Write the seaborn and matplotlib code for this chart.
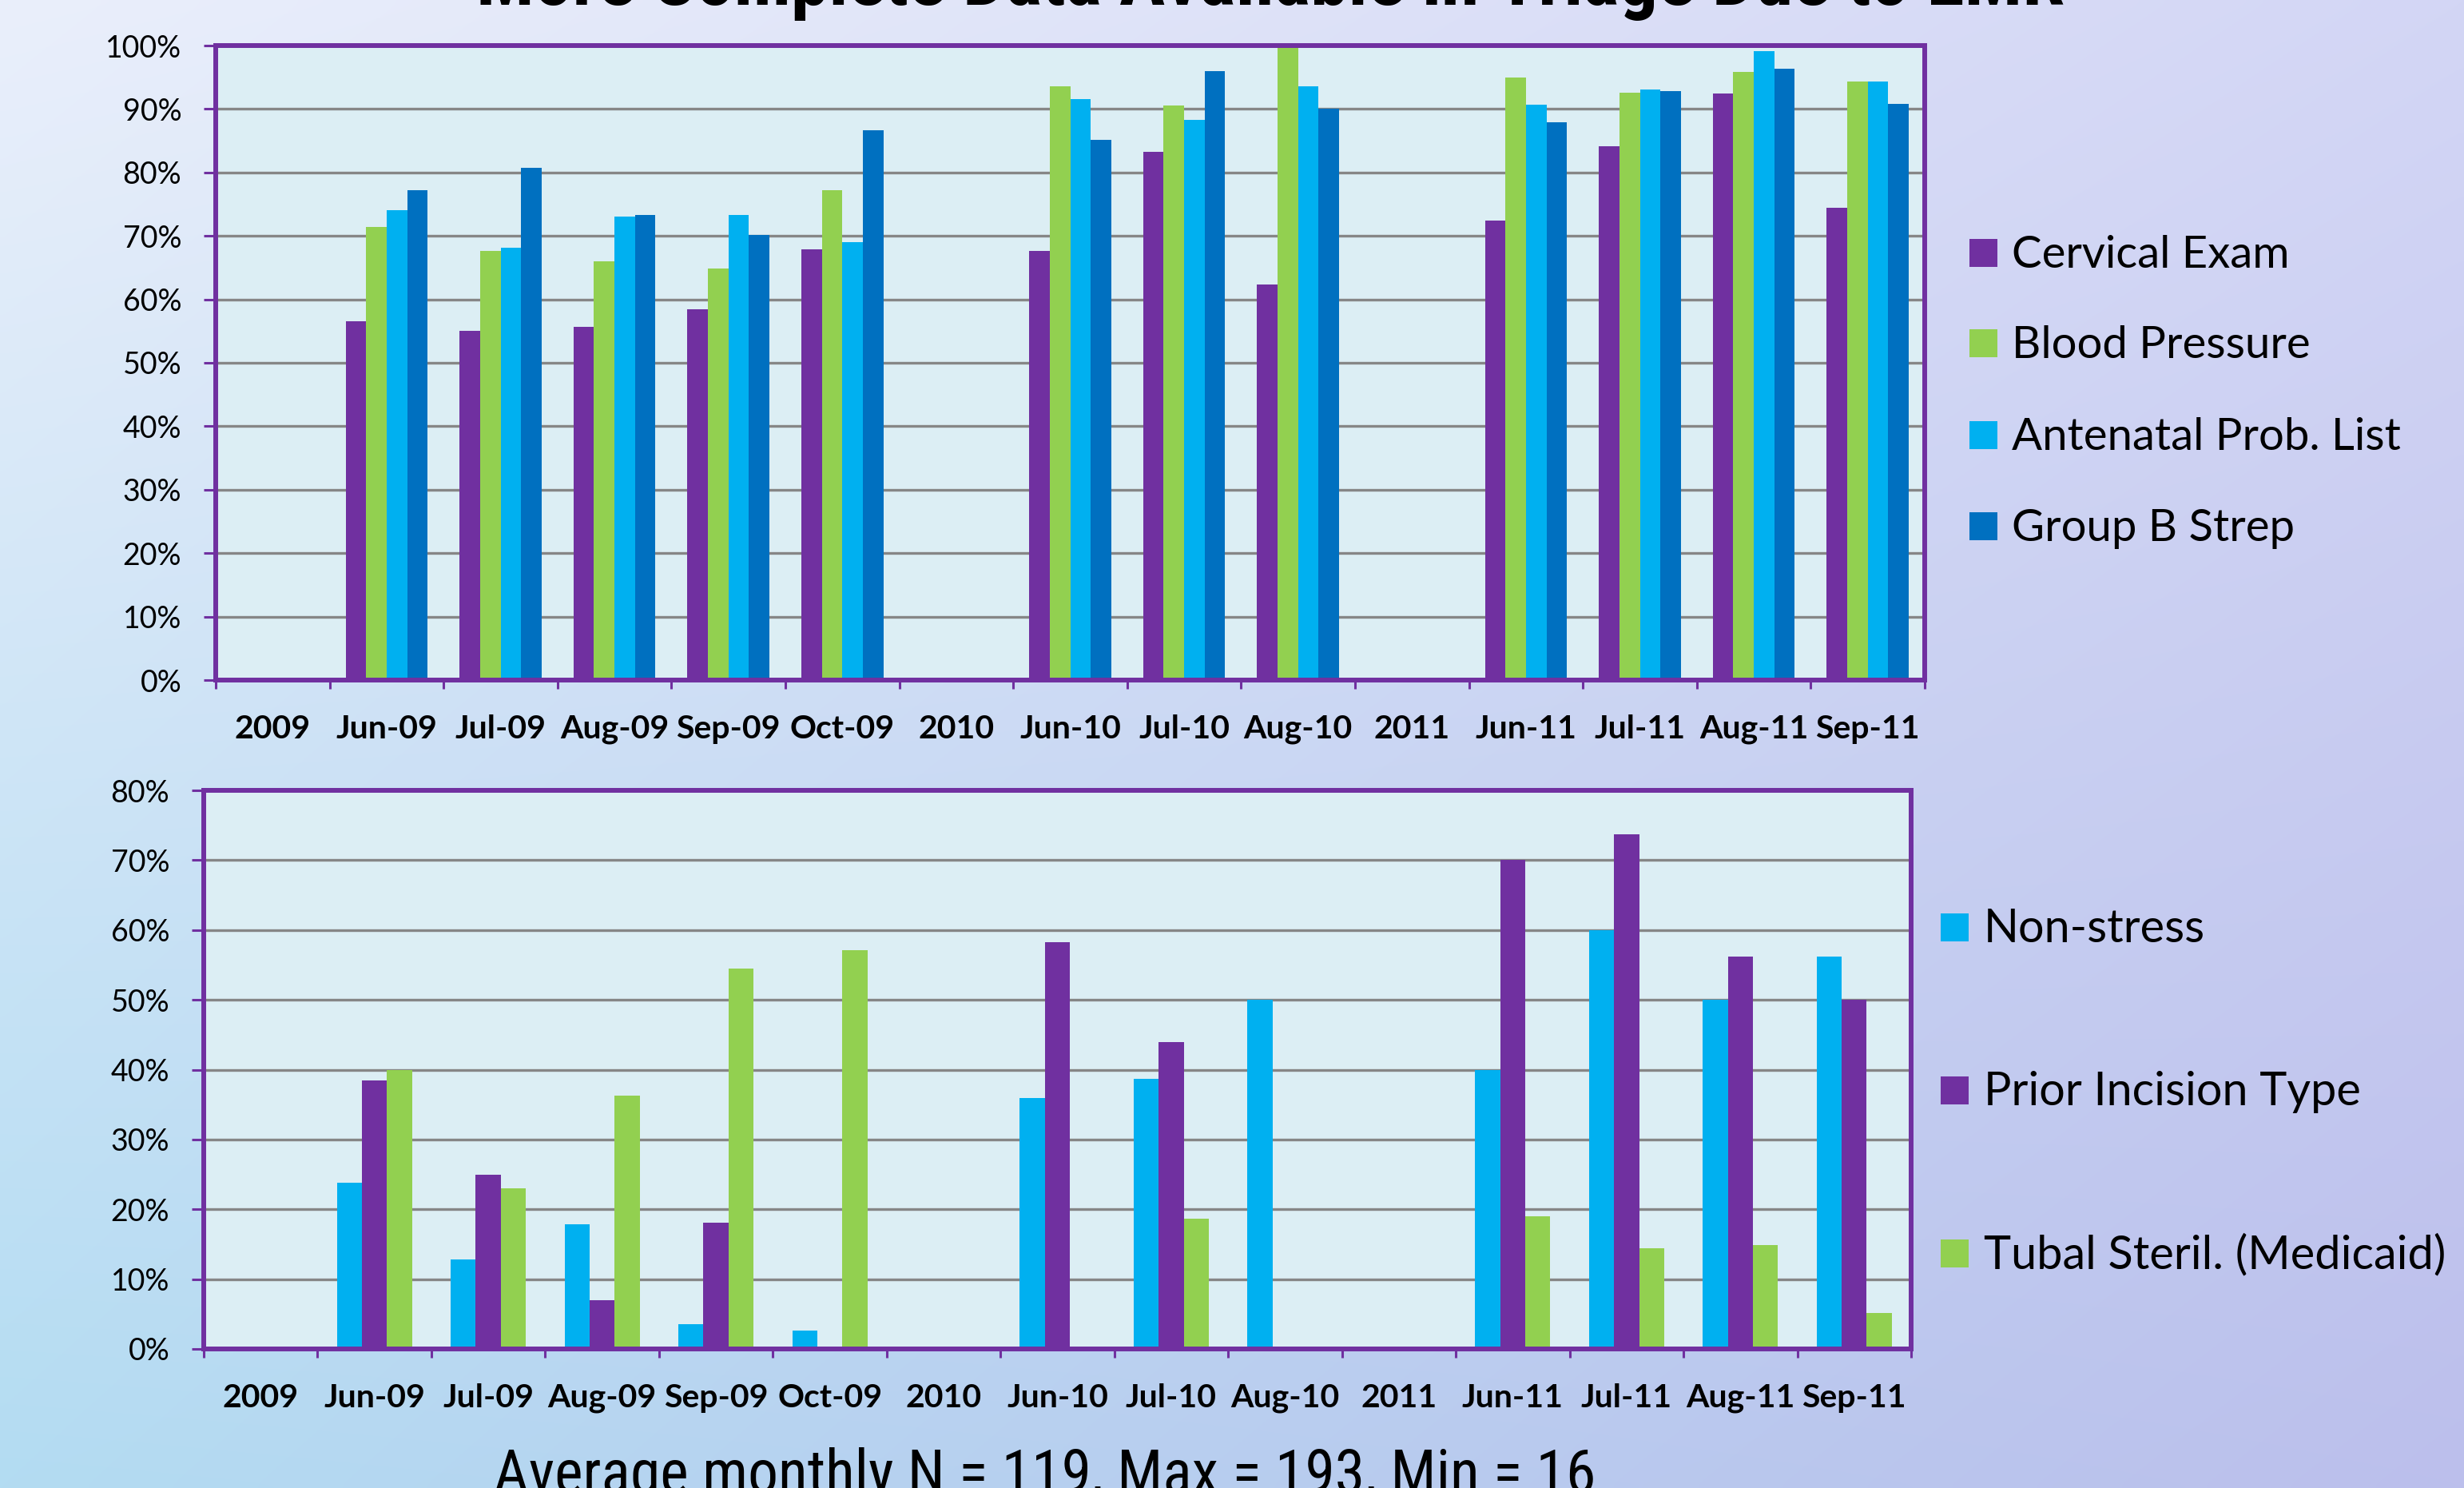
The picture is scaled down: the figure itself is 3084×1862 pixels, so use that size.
import numpy as np
import pandas as pd
import matplotlib
matplotlib.use("Agg")
import matplotlib.pyplot as plt
import seaborn as sns
from matplotlib.ticker import PercentFormatter, FixedLocator
from matplotlib import font_manager as fm
from matplotlib.patches import Rectangle

# ---------------- data ----------------
months = ["2009", "Jun-09", "Jul-09", "Aug-09", "Sep-09", "Oct-09", "2010",
          "Jun-10", "Jul-10", "Aug-10", "2011", "Jun-11", "Jul-11", "Aug-11", "Sep-11"]

top_series = ["Cervical Exam", "Blood Pressure", "Antenatal Prob. List", "Group B Strep"]
cervical_exam = [0, 56.6, 55.0, 55.7, 58.4, 67.9, 0, 67.6, 83.2, 62.4, 0, 72.4, 84.1, 92.5, 74.4]
blood_pressure = [0, 71.4, 67.6, 66.0, 64.8, 77.2, 0, 93.6, 90.5, 100.0, 0, 95.0, 92.6, 95.9, 94.3]
antenatal_list = [0, 74.0, 68.1, 73.1, 73.3, 69.0, 0, 91.6, 88.3, 93.6, 0, 90.7, 93.1, 99.1, 94.3]
group_b_strep = [0, 77.2, 80.7, 73.3, 70.2, 86.7, 0, 85.2, 96.0, 90.0, 0, 87.9, 92.8, 96.3, 90.8]

bottom_series = ["Non-stress", "Prior Incision Type", "Tubal Steril. (Medicaid)"]
non_stress = [0, 23.8, 12.8, 17.9, 3.5, 2.6, 0, 35.9, 38.7, 50.0, 0, 39.9, 60.0, 50.0, 56.2]
prior_incision = [0, 38.4, 25.0, 7.0, 18.1, 0, 0, 58.3, 43.9, 0, 0, 70.0, 73.7, 56.2, 50.0]
tubal_steril = [0, 39.9, 23.0, 36.3, 54.5, 57.1, 0, 0, 18.6, 0, 0, 19.0, 14.4, 14.9, 5.2]

top_ticks = list(range(0, 101, 10))
bottom_ticks = list(range(0, 81, 10))

title_text = "More Complete Data Available in Triage Due to EMR"
footer_text = "Average monthly N = 119, Max = 193, Min = 16"

# ---------------- style ----------------
PURPLE = "#7030A0"
GREEN = "#92D050"
CYAN = "#00B0F0"
BLUE = "#0070C0"
top_colors = [PURPLE, GREEN, CYAN, BLUE]
bottom_colors = [CYAN, PURPLE, GREEN]
FACE = "#DCEEF4"
GRID = "#868686"


def pick(fams):
    for f in fams:
        try:
            fm.findfont(fm.FontProperties(family=f), fallback_to_default=False)
            return f
        except Exception:
            pass
    return "DejaVu Sans"


MAIN = pick(["Lato", "Open Sans", "DejaVu Sans"])
NARROW = pick(["Liberation Sans Narrow", "Roboto Condensed", "DejaVu Sans"])

W, H = 3084, 1862
DPI = 100
fig = plt.figure(figsize=(W / DPI, H / DPI), dpi=DPI)


def fx(px):
    return px / W


def fy(py):
    return 1 - py / H


# background gradient
gx = np.linspace(0, 1, 320)
gy = np.linspace(0, 1, 200)
X, Y = np.meshgrid(gx, gy)


def c(h):
    h = h.lstrip("#")
    return np.array([int(h[i:i + 2], 16) / 255 for i in (0, 2, 4)])


TL, TR, BL, BR = c("#EAEFFB"), c("#D3D6F5"), c("#B3DCF2"), c("#BCBFEC")
img = ((1 - X)[..., None] * (1 - Y)[..., None] * TL + X[..., None] * (1 - Y)[..., None] * TR
       + (1 - X)[..., None] * Y[..., None] * BL + X[..., None] * Y[..., None] * BR)
bg = fig.add_axes([0, 0, 1, 1], zorder=-10)
bg.imshow(img, aspect="auto", extent=[0, 1, 0, 1], interpolation="bicubic")
bg.axis("off")


def long_df(series_names, arrays):
    rows = []
    for name, arr in zip(series_names, arrays):
        for m, v in zip(months, arr):
            rows.append({"month": m, "value": v, "series": name})
    return pd.DataFrame(rows)


def style_axes(ax, ymax, ticks):
    ax.set_facecolor(FACE)
    ax.set_xlim(-0.5, len(months) - 0.5)
    ax.set_ylim(0, ymax)
    ax.set_xlabel("")
    ax.set_ylabel("")
    ax.yaxis.set_major_locator(FixedLocator(ticks))
    ax.yaxis.set_major_formatter(PercentFormatter(xmax=100, decimals=0))
    ax.yaxis.grid(True, color=GRID, lw=2.4)
    ax.xaxis.grid(False)
    ax.set_axisbelow(True)
    for s in ax.spines.values():
        s.set_color(PURPLE)
        s.set_linewidth(4.3)
        s.set_zorder(5)
    ax.set_xticks(range(len(months)))
    ax.set_xticklabels(months, fontfamily=MAIN, fontweight="bold", fontsize=29.5)
    ax.tick_params(axis="x", which="major", length=0, pad=31)
    ax.set_xticks(np.arange(len(months) + 1) - 0.5, minor=True)
    ax.tick_params(axis="x", which="minor", length=8, width=2.2, color=PURPLE, direction="out")
    ax.tick_params(axis="y", which="major", length=10.8, width=2.2, color=PURPLE, pad=20,
                   labelsize=27)
    for lab in ax.get_yticklabels():
        lab.set_fontfamily(MAIN)


# ---------------- top chart ----------------
ax1 = fig.add_axes([fx(270), fy(851), fx(2409 - 270), (851 - 57) / H])
sns.barplot(data=long_df(top_series, [cervical_exam, blood_pressure, antenatal_list, group_b_strep]),
            x="month", y="value", hue="series", order=months, hue_order=top_series,
            palette=top_colors, width=0.72, gap=0, linewidth=0, saturation=1,
            errorbar=None, legend=False, ax=ax1)
style_axes(ax1, 100, top_ticks)

# ---------------- bottom chart ----------------
ax2 = fig.add_axes([fx(255), fy(1688), fx(2392 - 255), (1688 - 989) / H])
sns.barplot(data=long_df(bottom_series, [non_stress, prior_incision, tubal_steril]),
            x="month", y="value", hue="series", order=months, hue_order=bottom_series,
            palette=bottom_colors, width=0.66, gap=0, linewidth=0, saturation=1,
            errorbar=None, legend=False, ax=ax2)
style_axes(ax2, 80, bottom_ticks)


# ---------------- legends ----------------
def legend(names, colors, x_marker, x_text, baselines, size):
    for name, col, base in zip(names, colors, baselines):
        fig.patches.append(Rectangle((fx(x_marker), fy(base - 1)), fx(35), 35 / H,
                                     transform=fig.transFigure, facecolor=col,
                                     edgecolor="none"))
        fig.text(fx(x_text), fy(base), name, fontfamily=MAIN, fontsize=size,
                 va="baseline", ha="left", color="black")


legend(top_series, top_colors, 2465, 2518, [335, 448, 563, 677], 40.5)
legend(bottom_series, bottom_colors, 2429, 2483, [1179, 1383, 1587], 41.5)

# ---------------- title & footer ----------------
fig.text(fx(1590), fy(6), title_text, fontfamily=NARROW, fontweight="bold",
         fontsize=69, ha="center", va="baseline", color="black")
fig.text(fx(1308), fy(1868), footer_text, fontfamily=NARROW, fontsize=54.5,
         ha="center", va="baseline", color="black")

fig.savefig("out.png", dpi=DPI)
